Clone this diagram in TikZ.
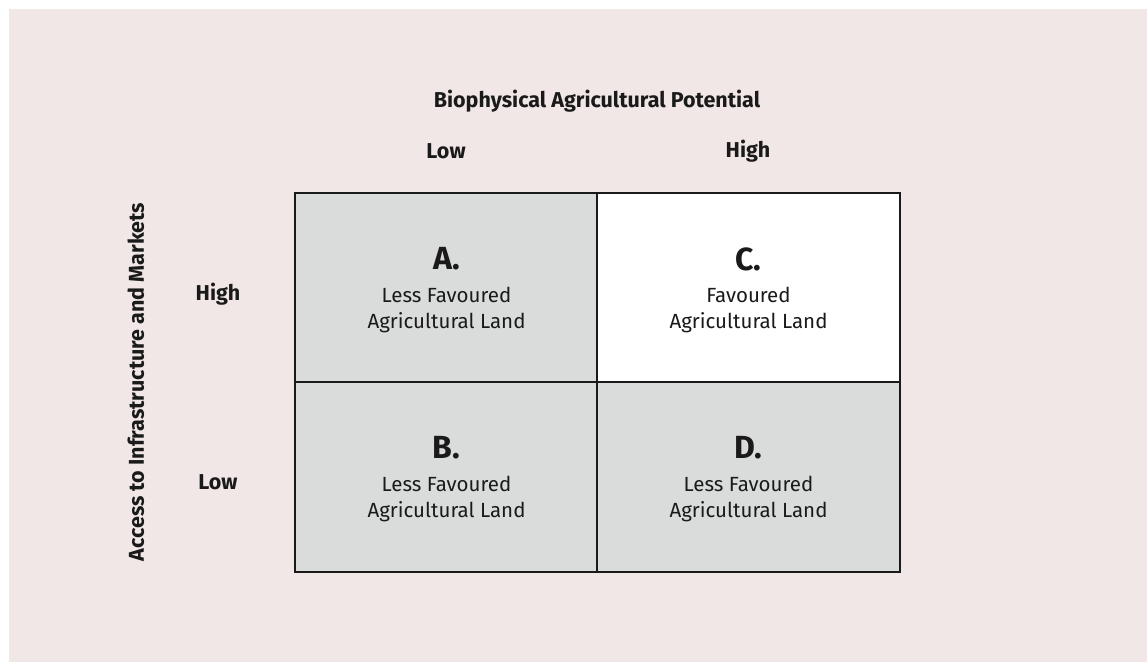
\documentclass[tikz,border=0pt]{standalone}
\usepackage{fontspec}
\setmainfont{Fira Sans}
\definecolor{bgpink}{HTML}{F0E7E6}
\definecolor{cellgray}{HTML}{DADCDB}
\definecolor{txt}{HTML}{1A1A1A}
\begin{document}
\begin{tikzpicture}[x=1pt,y=-1pt,
  cell/.style={draw=txt,line width=2pt,minimum width=303pt,minimum height=190pt,inner sep=0pt,anchor=north west},
  axislabel/.style={font=\fontsize{21.5}{24}\selectfont\bfseries,text=txt},
  celltext/.style={font=\fontsize{20.5}{26}\selectfont,text=txt,align=center},
  letter/.style={font=\fontsize{32}{36}\selectfont\bfseries,text=txt}]
\useasboundingbox (0,0) rectangle (1147,662);
\fill[white] (0,0) rectangle (1147,662);
\fill[bgpink] (9,9) rectangle (1147,662);
\node[cell,fill=cellgray] (A) at (294,192) {};
\node[cell,fill=white] (C) at (596,192) {};
\node[cell,fill=cellgray] (B) at (294,381) {};
\node[cell,fill=cellgray] (D) at (596,381) {};
\node[axislabel] (title) at (597,101) {Biophysical Agricultural Potential};
\node[axislabel] (lowx) at (446,151) {Low};
\node[axislabel] (highx) at (748,151) {High};
\node[axislabel,rotate=90] (ylab) at (136,382) {Access to Infrastructure and Markets};
\node[axislabel] (highy) at (218,294) {High};
\node[axislabel] (lowy) at (218,482) {Low};
\foreach \n/\l/\t in {A/A./Less Favoured, C/C./Favoured, B/B./Less Favoured, D/D./Less Favoured}{
  \node[letter] (\n l) at ([yshift=29pt]\n.center) {\l};
  \node[celltext] (\n t) at ([yshift=-22pt]\n.center) {\t\\Agricultural Land};
}
\end{tikzpicture}
\end{document}
